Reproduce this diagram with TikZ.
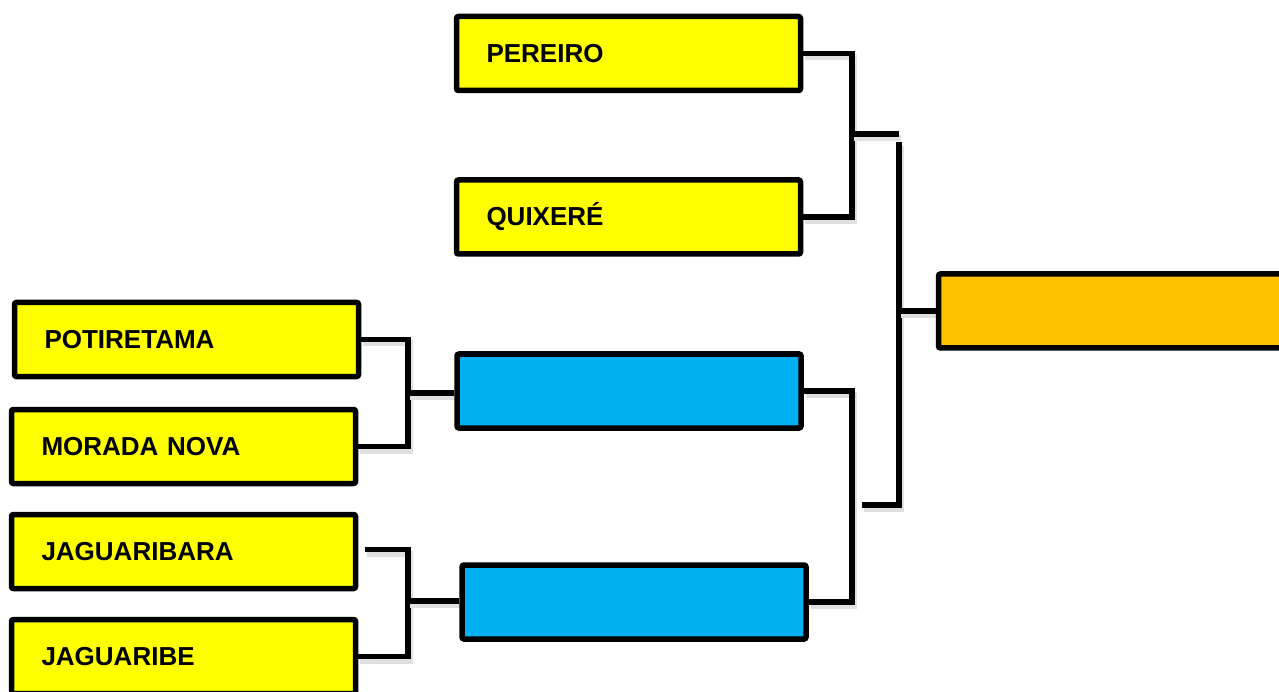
\documentclass[tikz,border=0pt]{standalone}
\usepackage{fontspec}
\setmainfont{Liberation Sans}
\usetikzlibrary{backgrounds}

\definecolor{teamyellow}{HTML}{FFFF00}
\definecolor{semiblue}{HTML}{00B0F0}
\definecolor{finalorange}{HTML}{FFC000}

\tikzset{
  team/.style={draw=black, line width=5.5pt, rounded corners=2pt, fill=teamyellow,
    minimum height=74pt, text width=284pt, inner xsep=30pt, align=left,
    font=\fontsize{26}{30}\selectfont\bfseries},
  slot/.style={draw=black, line width=5.5pt, rounded corners=2pt,
    minimum width=344pt, minimum height=74pt},
  link/.style={line width=5.5pt, draw=black,
    preaction={draw=black!12, line width=6pt, transform canvas={shift={(2pt,-4pt)}}}}
}

\begin{document}
\begin{tikzpicture}[x=1pt,y=-1pt]
\useasboundingbox (0,0) rectangle (1279,692);
\clip (0,0) rectangle (1279,692);

% first round
\node[team] (potiretama) at (186.5,339.5) {POTIRETAMA};
\node[team] (morada) at (183.5,446.5) {MORADA NOVA};
\node[team] (jaguaribara) at (183.5,551.5) {JAGUARIBARA};
\node[team] (jaguaribe) at (183.5,656.5) {JAGUARIBE};

% second round
\node[team] (pereiro) at (628.5,53.5) {PEREIRO};
\node[team] (quixere) at (628.5,217) {QUIXERÉ};
\node[slot, fill=semiblue] (semione) at (629,391) {};
\node[slot, fill=semiblue] (semitwo) at (634,602) {};

% final
\node[slot, fill=finalorange] (final) at (1110.5,311) {};

% junctions
\coordinate (lj1) at (408,393);
\coordinate (lj2) at (408,601);
\coordinate (tj1) at (852,134);
\coordinate (tj2) at (899,134);
\coordinate (bj1) at (852,500);
\coordinate (fj1) at (899,142);
\coordinate (fj2) at (899,505);
\coordinate (fj3) at (862,505);

\begin{scope}[on background layer]
% left brackets
\draw[link] (potiretama.east) -| (lj1) |- (morada.east);
\draw[link] (lj1) -- (lj1 -| semione.west);
\draw[link] (jaguaribara.east) ++(7,-2) -| (lj2) |- (jaguaribe.east);
\draw[link] (lj2) -- (lj2 -| semitwo.west);

% right brackets
\draw[link] (pereiro.east) -| (tj1) |- (quixere.east);
\draw[link] (tj1) -- (tj2);
\draw[link] (semione.east) -| (bj1) |- (semitwo.east);
\draw[link] (fj1) -- (fj2) -- (fj3);
\draw[link] (final.west) -- (final.west -| fj1);
\end{scope}

\end{tikzpicture}
\end{document}
